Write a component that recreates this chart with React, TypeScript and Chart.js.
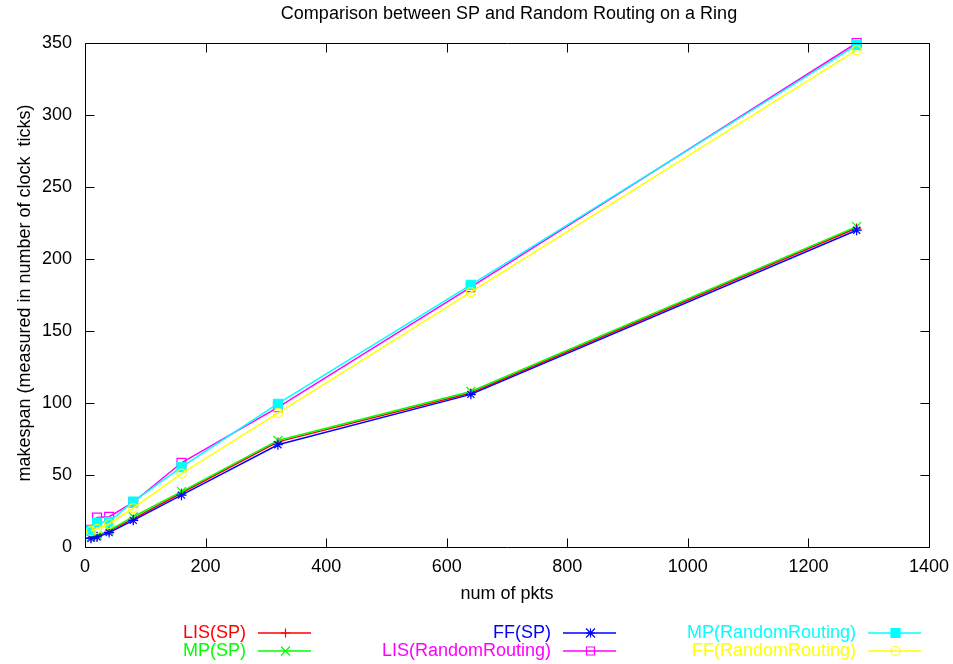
import React, { useEffect, useRef } from 'react';
import { Chart, registerables } from 'chart.js';

Chart.register(...registerables);

const chartTitle = 'Comparison between SP and Random Routing on a Ring';
const xTitle = 'num of pkts';
const yTitle = 'makespan (measured in number of clock  ticks)';

const pkts = [10, 20, 40, 80, 160, 320, 640, 1280];
const lisSP = [6.5, 7.5, 11, 19.5, 37.5, 73, 107, 221.5];
const mpSP = [7, 8, 11.5, 21, 38.5, 74, 108, 222.5];
const ffSP = [6, 7, 10, 18.5, 36, 71, 106, 220];
const lisRR = [12, 20.5, 21, 31, 58.5, 97, 180.5, 350];
const mpRR = [11.5, 17, 17.5, 31.5, 55.5, 99.5, 182, 348.5];
const ffRR = [11, 12.5, 16, 27, 51, 93, 177, 345];

const seriesNames = ['LIS(SP)', 'MP(SP)', 'FF(SP)', 'LIS(RandomRouting)', 'MP(RandomRouting)', 'FF(RandomRouting)'];
const seriesValues = [lisSP, mpSP, ffSP, lisRR, mpRR, ffRR];
const seriesColors = ['#ff0000', '#00ff00', '#0000ff', '#ff00ff', '#00ffff', '#ffff00'];
const seriesMarkers = ['plus', 'x', 'star', 'openSquare', 'filledSquare', 'openCircle'];

const xTicks = [0, 200, 400, 600, 800, 1000, 1200, 1400];
const yTicks = [0, 50, 100, 150, 200, 250, 300, 350];

const FONT = '"Liberation Sans", Arial, Helvetica, sans-serif';

function markerOptions(m: string, color: string) {
  switch (m) {
    case 'plus':
      return { pointStyle: 'cross', pointRadius: 4.5, pointBackgroundColor: color };
    case 'x':
      return { pointStyle: 'crossRot', pointRadius: 6.3, pointBackgroundColor: color };
    case 'star':
      return { pointStyle: 'star', pointRadius: 5, pointBackgroundColor: color };
    case 'openSquare':
      return { pointStyle: 'rect', pointRadius: 6.3, pointBackgroundColor: 'rgba(0,0,0,0)' };
    case 'filledSquare':
      return { pointStyle: 'rect', pointRadius: 6.3, pointBackgroundColor: color };
    default:
      return { pointStyle: 'circle', pointRadius: 4.5, pointBackgroundColor: 'rgba(0,0,0,0)' };
  }
}

function drawMarker(ctx: CanvasRenderingContext2D, m: string, x: number, y: number, color: string) {
  ctx.save();
  ctx.strokeStyle = color;
  ctx.fillStyle = color;
  ctx.lineWidth = 1.2;
  const r = 4.5;
  ctx.beginPath();
  if (m === 'plus' || m === 'star') {
    ctx.moveTo(x - r, y); ctx.lineTo(x + r, y);
    ctx.moveTo(x, y - r); ctx.lineTo(x, y + r);
  }
  if (m === 'x' || m === 'star') {
    ctx.moveTo(x - r, y - r); ctx.lineTo(x + r, y + r);
    ctx.moveTo(x - r, y + r); ctx.lineTo(x + r, y - r);
  }
  if (m === 'openSquare') {
    ctx.rect(x - 4, y - 4, 8, 8);
  }
  if (m === 'filledSquare') {
    ctx.rect(x - 4.5, y - 4.5, 9, 9);
    ctx.fill();
  }
  if (m === 'openCircle') {
    ctx.arc(x, y, 4.5, 0, Math.PI * 2);
  }
  ctx.stroke();
  ctx.restore();
}

const framePlugin = {
  id: 'gnuplotFrame',
  afterDraw(chart: any) {
    const ctx: CanvasRenderingContext2D = chart.ctx;
    const { left, top, right, bottom } = chart.chartArea;
    const xs = chart.scales.x;
    const ys = chart.scales.y;
    ctx.save();
    ctx.strokeStyle = '#000';
    ctx.lineWidth = 1;
    const L = Math.round(left) + 0.5;
    const R = Math.round(right) + 0.5;
    const T = Math.round(top) + 0.5;
    const B = Math.round(bottom) + 0.5;
    ctx.beginPath();
    ctx.rect(L, T, R - L, B - T);
    const tl = 9;
    for (const v of xTicks) {
      const px = Math.round(xs.getPixelForValue(v)) + 0.5;
      ctx.moveTo(px, B); ctx.lineTo(px, B - tl);
      ctx.moveTo(px, T); ctx.lineTo(px, T + tl);
    }
    for (const v of yTicks) {
      const py = Math.round(ys.getPixelForValue(v)) + 0.5;
      ctx.moveTo(L, py); ctx.lineTo(L + tl, py);
      ctx.moveTo(R, py); ctx.lineTo(R - tl, py);
    }
    ctx.stroke();

    ctx.fillStyle = '#000';
    ctx.font = `18px ${FONT}`;
    ctx.textAlign = 'center';
    ctx.textBaseline = 'middle';
    ctx.fillText(chartTitle, 509, 14);
    ctx.fillText(xTitle, 507, 594);
    ctx.save();
    ctx.translate(25, 293);
    ctx.rotate(-Math.PI / 2);
    ctx.fillText(yTitle, 0, 0);
    ctx.restore();

    // legend: 3 columns x 2 rows, filled column-wise
    const colTextRight = [246, 551, 856];
    const rowY = [633, 651];
    for (let i = 0; i < seriesNames.length; i++) {
      const col = Math.floor(i / 2);
      const row = i % 2;
      const y = rowY[row];
      const tr = colTextRight[col];
      ctx.fillStyle = seriesColors[i];
      ctx.textAlign = 'right';
      ctx.fillText(seriesNames[i], tr, y);
      const x1 = tr + 12;
      const x2 = tr + 65;
      ctx.save();
      ctx.strokeStyle = seriesColors[i];
      ctx.lineWidth = 1.5;
      ctx.beginPath();
      ctx.moveTo(x1, y);
      ctx.lineTo(x2, y);
      ctx.stroke();
      ctx.restore();
      drawMarker(ctx, seriesMarkers[i], Math.round((x1 + x2) / 2) + 0.5, y, seriesColors[i]);
    }
    ctx.restore();
  },
};

export default function App() {
  const ref = useRef<HTMLCanvasElement | null>(null);
  useEffect(() => {
    document.body.style.margin = '0';
    const canvas = ref.current;
    if (!canvas) return;
    const datasets = seriesNames.map((name, i) => ({
      label: name,
      data: pkts.map((p, j) => ({ x: p, y: seriesValues[i][j] })),
      borderColor: seriesColors[i],
      borderWidth: 1.5,
      pointBorderColor: seriesColors[i],
      pointBorderWidth: 1.2,
      ...markerOptions(seriesMarkers[i], seriesColors[i]),
      fill: false,
      tension: 0,
      clip: false as any,
      order: seriesNames.length - i,
    }));
    const chart = new Chart(canvas, {
      type: 'line',
      data: { datasets: datasets as any },
      options: {
        responsive: false,
        animation: false,
        devicePixelRatio: 1,
        layout: { padding: { left: 0, top: 43, right: 24, bottom: 0 } },
        plugins: {
          legend: { display: false },
          title: { display: false },
          tooltip: { enabled: false },
        },
        scales: {
          x: {
            type: 'linear',
            min: 0,
            max: 1400,
            afterBuildTicks: (scale: any) => {
              scale.ticks = xTicks.map((v) => ({ value: v }));
            },
            afterFit: (scale: any) => {
              scale.height = 664 - 547;
              scale.paddingLeft = 0;
              scale.paddingRight = 0;
            },
            grid: { display: false, drawTicks: false },
            border: { display: false },
            ticks: {
              color: '#000',
              font: { family: FONT, size: 18 },
              padding: 9,
              maxRotation: 0,
              autoSkip: false,
              callback: (v: any) => String(v),
            },
          },
          y: {
            type: 'linear',
            min: 0,
            max: 350,
            afterBuildTicks: (scale: any) => {
              scale.ticks = yTicks.map((v) => ({ value: v }));
            },
            afterFit: (scale: any) => {
              scale.width = 85;
              scale.paddingTop = 0;
              scale.paddingBottom = 0;
            },
            grid: { display: false, drawTicks: false },
            border: { display: false },
            ticks: {
              color: '#000',
              font: { family: FONT, size: 18 },
              padding: 13,
              autoSkip: false,
              callback: (v: any) => String(v),
            },
          },
        },
      },
      plugins: [framePlugin],
    });
    return () => chart.destroy();
  }, []);
  return (
    <div style={{ width: 953, height: 664, background: '#fff' }}>
      <canvas ref={ref} width={953} height={664} style={{ display: 'block' }} />
    </div>
  );
}
